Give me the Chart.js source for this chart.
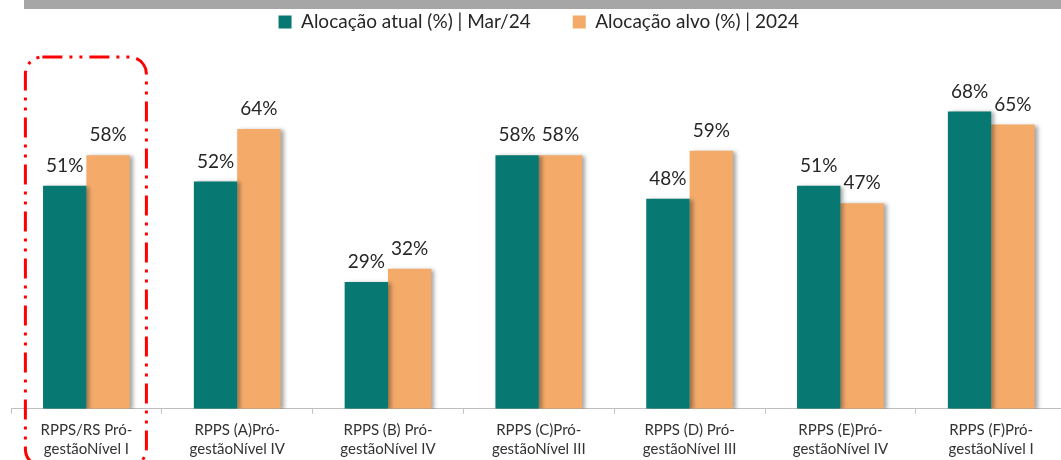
<!DOCTYPE html>
<html>
<head>
<meta charset="utf-8">
<script src="https://cdn.jsdelivr.net/npm/chart.js@4"></script>
<style>
  html, body { margin: 0; padding: 0; background: #ffffff; overflow: hidden; }
  #wrap { width: 1076px; height: 460px; position: relative; }
</style>
</head>
<body>
<div id="wrap"><canvas id="c" width="1076" height="460"></canvas></div>
<script>
const categories = [
  ["RPPS/RS Pró-", "gestãoNível I"],
  ["RPPS (A)Pró-", "gestãoNível IV"],
  ["RPPS (B) Pró-", "gestãoNível IV"],
  ["RPPS (C)Pró-", "gestãoNível III"],
  ["RPPS (D) Pró-", "gestãoNível III"],
  ["RPPS (E)Pró-", "gestãoNível IV"],
  ["RPPS (F)Pró-", "gestãoNível I"]
];
const seriesNames = ["Alocação atual (%) | Mar/24", "Alocação alvo (%) | 2024"];
const atual = [51, 52, 29, 58, 48, 51, 68];
const alvo = [58, 64, 32, 58, 59, 47, 65];

const TEAL = '#077872';
const ORANGE = '#F4AB6A';
const FONT = 'Lato, Carlito, Calibri, "Open Sans", sans-serif';

const shadowPlugin = {
  id: 'barShadow',
  beforeDatasetsDraw(chart) {
    const ctx = chart.ctx;
    ctx.save();
    ctx.shadowColor = 'rgba(0,0,0,0.35)';
    ctx.shadowBlur = 4;
    ctx.shadowOffsetX = 3;
    ctx.shadowOffsetY = 1;
  },
  afterDatasetsDraw(chart) {
    chart.ctx.restore();
  }
};

const decoPlugin = {
  id: 'deco',
  afterDraw(chart) {
    const ctx = chart.ctx;
    // value labels
    ctx.save();
    ctx.font = '19px ' + FONT;
    ctx.fillStyle = '#262626';
    ctx.textAlign = 'center';
    ctx.textBaseline = 'middle';
    chart.data.datasets.forEach((ds, di) => {
      const meta = chart.getDatasetMeta(di);
      meta.data.forEach((el, i) => {
        ctx.fillText(ds.data[i] + '%', el.x, el.y - 20);
      });
    });
    ctx.restore();

    // grey band at top
    ctx.save();
    ctx.fillStyle = '#a6a6a6';
    ctx.fillRect(24, 0, chart.width - 24, 9);
    ctx.restore();

    // red dash-dot highlight around first category
    const xs = chart.scales.x;
    const cx = xs.getPixelForValue(0);
    const left = cx - 61, right = cx + 60, top = 57, bottom = 466, r = 17;
    ctx.save();
    ctx.strokeStyle = '#ff0000';
    ctx.lineWidth = 3;
    ctx.setLineDash([20, 7, 3, 7, 3, 7]);
    ctx.beginPath();
    ctx.roundRect(left, top, right - left, bottom - top, r);
    ctx.stroke();
    ctx.restore();
  }
};

new Chart(document.getElementById('c'), {
  type: 'bar',
  data: {
    labels: categories,
    datasets: [
      { label: seriesNames[0], data: atual, backgroundColor: TEAL, borderWidth: 0 },
      { label: seriesNames[1], data: alvo, backgroundColor: ORANGE, borderWidth: 0 }
    ]
  },
  options: {
    responsive: false,
    animation: false,
    devicePixelRatio: 1,
    datasets: { bar: { categoryPercentage: 0.575, barPercentage: 1 } },
    layout: { padding: { top: -29.5, left: 11, right: 9.4, bottom: 0 } },
    plugins: {
      legend: {
        position: 'top',
        labels: {
          boxWidth: 13,
          boxHeight: 13,
          padding: 42,
          color: '#262626',
          font: { family: FONT, size: 19 }
        }
      },
      tooltip: { enabled: false }
    },
    scales: {
      x: {
        afterFit(scale) { scale.height = 51.3; },
        grid: { display: true, offset: true, drawOnChartArea: false, drawTicks: true, tickLength: 5, color: '#bfbfbf' },
        border: { display: true, color: '#bfbfbf', width: 1 },
        ticks: {
          autoSkip: false,
          maxRotation: 0,
          padding: 6,
          color: '#333333',
          font: { family: FONT, size: 15, lineHeight: 1.33 }
        }
      },
      y: {
        display: false,
        min: 0,
        max: 84
      }
    }
  },
  plugins: [shadowPlugin, decoPlugin]
});
</script>
</body>
</html>
